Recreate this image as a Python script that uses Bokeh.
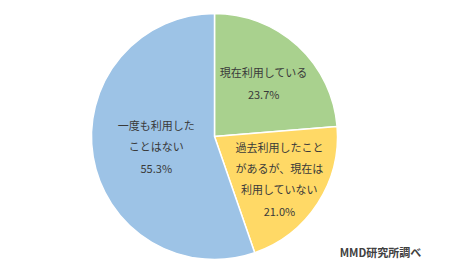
import math
from bokeh.plotting import figure
from bokeh.models import Range1d, ColumnDataSource
from bokeh.core.properties import value
from bokeh.embed import file_html
from bokeh.resources import INLINE

categories = ["現在利用している", "過去利用したことがあるが、現在は利用していない", "一度も利用したことはない"]
label_lines = ["現在利用している", "過去利用したこと\nがあるが、現在は\n利用していない", "一度も利用した\nことはない"]
shares = [23.7, 21.0, 55.3]
colors = ["#A9D18E", "#FFD966", "#9DC3E6"]
label_r = [0.59, 0.63, 0.48]
source_note = "MMD研究所調べ"

W, H = 450, 277
cx, cy, R = 214, H - 136, 123

total = sum(shares)
starts, ends, lx, ly, texts = [], [], [], [], []
cum = 0.0
for s, lab, lr in zip(shares, label_lines, label_r):
    a0 = math.pi / 2 - 2 * math.pi * (cum + s) / total
    a1 = math.pi / 2 - 2 * math.pi * cum / total
    starts.append(a0)
    ends.append(a1)
    mid = (a0 + a1) / 2
    lx.append(cx + lr * R * math.cos(mid))
    ly.append(cy + lr * R * math.sin(mid))
    texts.append(lab + "\n" + f"{s:.1f}%")
    cum += s

src = ColumnDataSource(dict(start=starts, end=ends, color=colors, lx=lx, ly=ly, text=texts, cat=categories))

p = figure(width=W, height=H, x_range=Range1d(0, W), y_range=Range1d(0, H),
           output_backend="svg", toolbar_location=None, min_border=0)
p.axis.visible = False
p.grid.visible = False
p.outline_line_color = None
p.background_fill_color = "white"
p.border_fill_color = "white"

p.wedge(x=cx, y=cy, radius=R, start_angle="start", end_angle="end", fill_color="color",
        line_color="white", line_width=1.5, source=src)

p.text(x="lx", y="ly", text="text", source=src, text_align="center", text_baseline="middle",
       text_font=value("Noto Sans CJK JP"), text_font_size="11px", text_color="#3a3a3a",
       text_line_height=1.33)

p.text(x=[380], y=[H - 251], text=[source_note], text_align="center", text_baseline="middle",
       text_font=value("Noto Sans CJK JP"), text_font_size="11px", text_font_style="bold",
       text_color="#404040")

open("out.html", "w").write(file_html(p, INLINE))
